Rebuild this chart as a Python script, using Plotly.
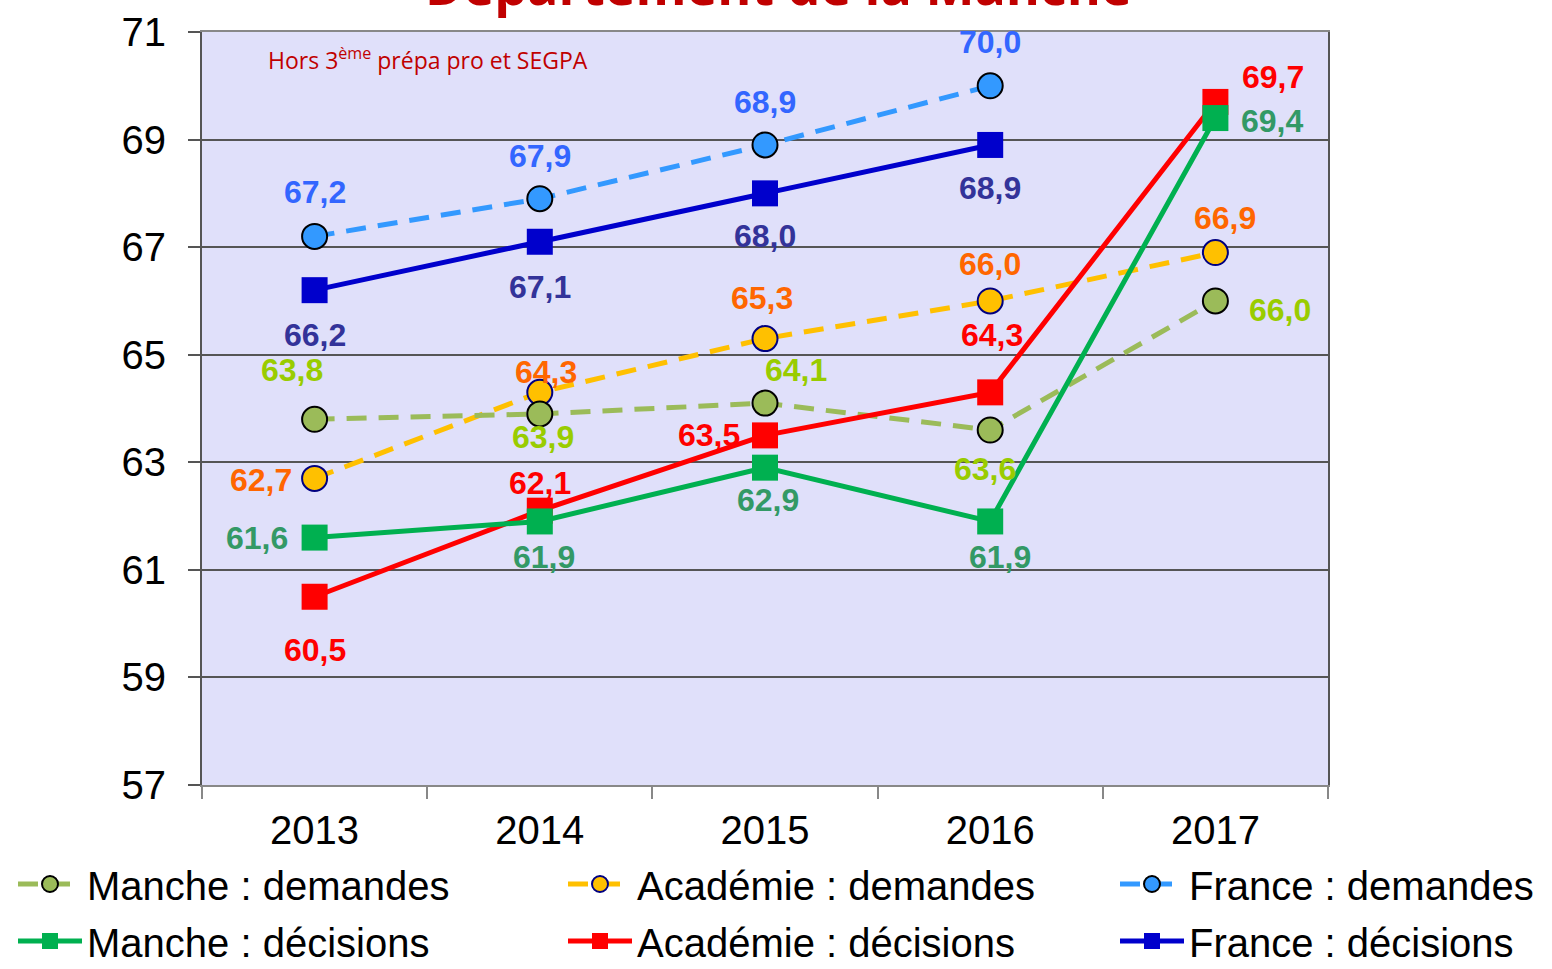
import plotly.graph_objects as go

years = ["2013", "2014", "2015", "2016", "2017"]
manche_dem = [63.8, 63.9, 64.1, 63.6, 66.0]
manche_dec = [61.6, 61.9, 62.9, 61.9, 69.4]
acad_dem = [62.7, 64.3, 65.3, 66.0, 66.9]
acad_dec = [60.5, 62.1, 63.5, 64.3, 69.7]
france_dem = [67.2, 67.9, 68.9, 70.0, None]
france_dec = [66.2, 67.1, 68.0, 68.9, None]
y_ticks = [57, 59, 61, 63, 65, 67, 69, 71]

SANS = "Liberation Sans, Arial"

# label offsets in screen px (dx right, dy down)
series = [
    dict(name="Académie : demandes", y=acad_dem, color="#FFC000", dash="20px,12px",
         symbol="circle", mcolor="#FFC000", mline="#000080", lcolor="#FF6600",
         legend="legend2",
         off=[(-54, 2), (6, -20), (-3, -41), (0, -37), (10, -35)]),
    dict(name="Manche : demandes", y=manche_dem, color="#9BBB59", dash="20px,12px",
         symbol="circle", mcolor="#9BBB59", mline="#000000", lcolor="#99CC00",
         legend="legend",
         off=[(-23, -49), (3, 23), (31, -33), (-5, 39), (65, 9)]),
    dict(name="France : demandes", y=france_dem, color="#3399FF", dash="20px,12px",
         symbol="circle", mcolor="#3399FF", mline="#000000", lcolor="#3366FF",
         legend="legend3",
         off=[(0, -44), (0, -43), (0, -43), (0, -44), (0, 0)]),
    dict(name="Académie : décisions", y=acad_dec, color="#FF0000", dash="solid",
         symbol="square", mcolor="#FF0000", mline="#FF0000", lcolor="#FF0000",
         legend="legend5",
         off=[(0, 53), (0, -28), (-56, 0), (2, -57), (58, -25)]),
    dict(name="Manche : décisions", y=manche_dec, color="#00B050", dash="solid",
         symbol="square", mcolor="#00B050", mline="#00B050", lcolor="#339966",
         legend="legend4",
         off=[(-58, 0), (4, 36), (3, 32), (10, 36), (57, 3)]),
    dict(name="France : décisions", y=france_dec, color="#0000CC", dash="solid",
         symbol="square", mcolor="#0000CC", mline="#0000CC", lcolor="#333399",
         legend="legend6",
         off=[(0, 45), (0, 45), (0, 43), (0, 43), (0, 0)]),
]

fig = go.Figure()
annotations = []
for s in series:
    is_circle = s["symbol"] == "circle"
    fig.add_trace(go.Scatter(
        x=years, y=s["y"], name=s["name"], mode="lines+markers",
        legend=s["legend"],
        line=dict(color=s["color"], width=5, dash=s["dash"]),
        marker=dict(symbol=s["symbol"], size=25 if is_circle else 26, color=s["mcolor"],
                    line=dict(color=s["mline"], width=2 if is_circle else 0)),
        connectgaps=False,
    ))
    for i, (yv, (dx, dy)) in enumerate(zip(s["y"], s["off"])):
        if yv is None:
            continue
        annotations.append(dict(
            x=i, y=yv, xref="x", yref="y",
            text="<b>" + f"{yv:.1f}".replace(".", ",") + "</b>",
            showarrow=False, xshift=dx, yshift=-dy,
            font=dict(family=SANS, size=32, color=s["lcolor"]),
        ))

annotations.append(dict(
    x=0.512, y=1, xref="paper", yref="paper", xanchor="center", yanchor="bottom",
    yshift=10, showarrow=False, text="<b>Département de la Manche</b>",
    font=dict(family="Open Sans, Liberation Sans", size=52, color="#C00000"),
))
annotations.append(dict(
    x=0.057, y=0.964, xref="paper", yref="paper", xanchor="left", yanchor="middle",
    showarrow=False, text="Hors 3<sup>ème</sup> prépa pro et SEGPA",
    font=dict(family="Open Sans, Liberation Sans", size=23, color="#C00000"),
))

PL, PW, PB, PH = 202, 1126, 785, 753


def leg(px_left, row_center_px):
    top = row_center_px - 35.5
    return dict(orientation="v", xanchor="left", yanchor="top",
                x=(px_left - PL) / PW, y=-(top - PB) / PH,
                itemwidth=64, tracegroupgap=0, bgcolor="rgba(0,0,0,0)",
                font=dict(family=SANS, size=40, color="black"))


fig.update_layout(
    width=1552, height=969,
    margin=dict(l=202, r=224, t=32, b=184, autoexpand=False),
    paper_bgcolor="white", plot_bgcolor="#E0E0FA",
    showlegend=True,
    legend=leg(13, 887), legend2=leg(563, 887), legend3=leg(1115, 887),
    legend4=leg(13, 944), legend5=leg(563, 944), legend6=leg(1115, 944),
    annotations=annotations,
    xaxis=dict(type="category", range=[-0.5, 4.5], tickson="boundaries",
               ticks="outside", ticklen=12, tickwidth=2, tickcolor="#888888",
               showline=True, linecolor="#888888", linewidth=2, mirror=True,
               showgrid=False, ticklabelstandoff=9,
               tickfont=dict(family=SANS, size=40, color="black")),
    yaxis=dict(range=[57, 71], tickvals=y_ticks, ticks="outside", ticklen=12,
               tickwidth=2, tickcolor="#555555",
               showline=True, linecolor="#555555", linewidth=2, mirror=True,
               showgrid=True, gridcolor="#555555", gridwidth=1.5, zeroline=False,
               ticklabelstandoff=14,
               tickfont=dict(family=SANS, size=40, color="black")),
)

fig.write_html("out.html", config={"displayModeBar": False},
               post_script="document.body.style.margin='0';")
